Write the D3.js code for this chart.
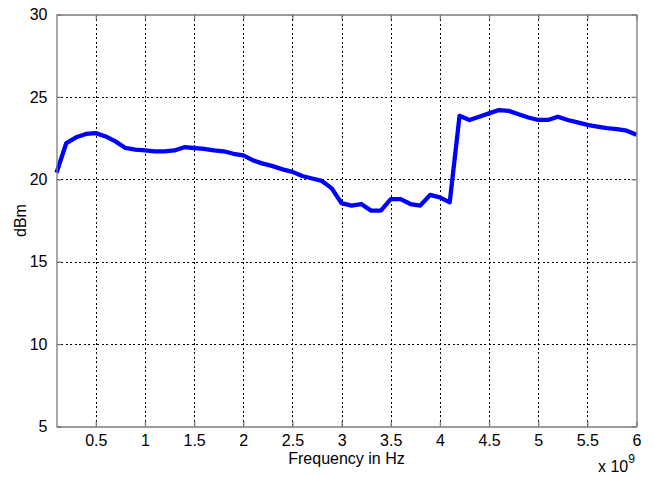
<!DOCTYPE html>
<html>
<head>
<meta charset="utf-8">
<script src="https://cdn.jsdelivr.net/npm/d3@7"></script>
<style>
  html, body { margin: 0; padding: 0; background: #fff; }
  svg { display: block; }
  text { font-family: "Liberation Sans", Arial, sans-serif; fill: #000; }
</style>
</head>
<body>
<svg id="chart" width="654" height="477"></svg>
<script>
// Frequency (GHz, multiplied by 1e9 below) and measured power (dBm)
const freqGHz = [0.1,0.2,0.3,0.4,0.5,0.6,0.7,0.8,0.9,1.0,
                 1.1,1.2,1.3,1.4,1.5,1.6,1.7,1.8,1.9,2.0,
                 2.1,2.2,2.3,2.4,2.5,2.6,2.7,2.8,2.9,3.0,
                 3.1,3.2,3.3,3.4,3.5,3.6,3.7,3.8,3.9,4.0,
                 4.1,4.2,4.3,4.4,4.5,4.6,4.7,4.8,4.9,5.0,
                 5.1,5.2,5.3,5.4,5.5,5.6,5.7,5.8,5.9,6.0];
const powerDbm = [20.4,22.2,22.55,22.75,22.8,22.6,22.3,21.9,21.8,21.75,
                  21.7,21.7,21.75,21.95,21.9,21.85,21.75,21.7,21.55,21.45,
                  21.15,20.95,20.8,20.6,20.45,20.2,20.05,19.9,19.45,18.55,
                  18.4,18.5,18.1,18.1,18.8,18.8,18.5,18.4,19.05,18.9,
                  18.6,23.85,23.6,23.8,24.0,24.2,24.15,23.95,23.75,23.6,
                  23.6,23.8,23.6,23.45,23.3,23.2,23.1,23.05,22.95,22.7];
const xTicks = [0.5e9,1e9,1.5e9,2e9,2.5e9,3e9,3.5e9,4e9,4.5e9,5e9,5.5e9,6e9];
const yTicks = [5,10,15,20,25,30];
const xLabel = "Frequency in Hz";
const yLabel = "dBm";

const svg = d3.select("#chart");
const pL = 56.5, pR = 636.5, pT = 14.5, pB = 426.5;
const x = d3.scaleLinear().domain([1e8, 6e9]).range([pL, pR]);
const y = d3.scaleLinear().domain([5, 30]).range([pB, pT]);
const FS = 16;

// grid
const grid = svg.append("g").attr("stroke", "#000").attr("stroke-width", 1)
  .attr("stroke-dasharray", "2,2.5").attr("shape-rendering", "crispEdges");
xTicks.filter(t => t < 6e9).forEach(t => {
  grid.append("line").attr("x1", Math.round(x(t)) + 0.5).attr("x2", Math.round(x(t)) + 0.5)
    .attr("y1", pT).attr("y2", pB);
});
yTicks.filter(t => t > 5 && t < 30).forEach(t => {
  grid.append("line").attr("x1", pL).attr("x2", pR)
    .attr("y1", Math.round(y(t)) + 0.5).attr("y2", Math.round(y(t)) + 0.5);
});

// data line
const data = freqGHz.map((f, i) => ({ f: f * 1e9, p: powerDbm[i] }));
svg.append("path").datum(data)
  .attr("fill", "none").attr("stroke", "#0000ff").attr("stroke-width", 4.3)
  .attr("stroke-linejoin", "round").attr("stroke-linecap", "butt")
  .attr("d", d3.line().x(d => x(d.f)).y(d => y(d.p)));

// axes (Matlab-like boxed axes with inward ticks)
const fmtX = d => String(+(d / 1e9).toFixed(1));
const axB = svg.append("g").attr("transform", `translate(0,${pB})`)
  .call(d3.axisBottom(x).tickValues(xTicks).tickFormat(fmtX).tickSizeInner(-5).tickSizeOuter(0).tickPadding(8));
const axT = svg.append("g").attr("transform", `translate(0,${pT})`)
  .call(d3.axisTop(x).tickValues(xTicks).tickFormat("").tickSizeInner(-5).tickSizeOuter(0));
const axL = svg.append("g").attr("transform", `translate(${pL},0)`)
  .call(d3.axisLeft(y).tickValues(yTicks).tickFormat(d3.format("d")).tickSizeInner(-5).tickSizeOuter(0).tickPadding(9));
const axR = svg.append("g").attr("transform", `translate(${pR},0)`)
  .call(d3.axisRight(y).tickValues(yTicks).tickFormat("").tickSizeInner(-5).tickSizeOuter(0));
[axB, axT, axL, axR].forEach(a => {
  a.select(".domain").attr("stroke", "#7a7a7a").attr("stroke-width", 1.3);
  a.selectAll(".tick line").attr("stroke", "#7a7a7a").attr("stroke-width", 1.3);
  a.selectAll("text").attr("font-size", FS).attr("font-family", "'Liberation Sans', Arial, sans-serif").attr("fill", "#000");
});

// labels
svg.append("text").attr("x", (pL + pR) / 2).attr("y", 464)
  .attr("text-anchor", "middle").attr("font-size", FS).text(xLabel);
svg.append("text").attr("transform", `translate(26,${(pT + pB) / 2}) rotate(-90)`)
  .attr("text-anchor", "middle").attr("font-size", FS).text(yLabel);

// exponent label
const ex = svg.append("text").attr("x", 598).attr("y", 472).attr("font-size", FS);
ex.append("tspan").text("x 10");
ex.append("tspan").attr("font-size", 12).attr("dy", -9).text("9");
</script>
</body>
</html>
